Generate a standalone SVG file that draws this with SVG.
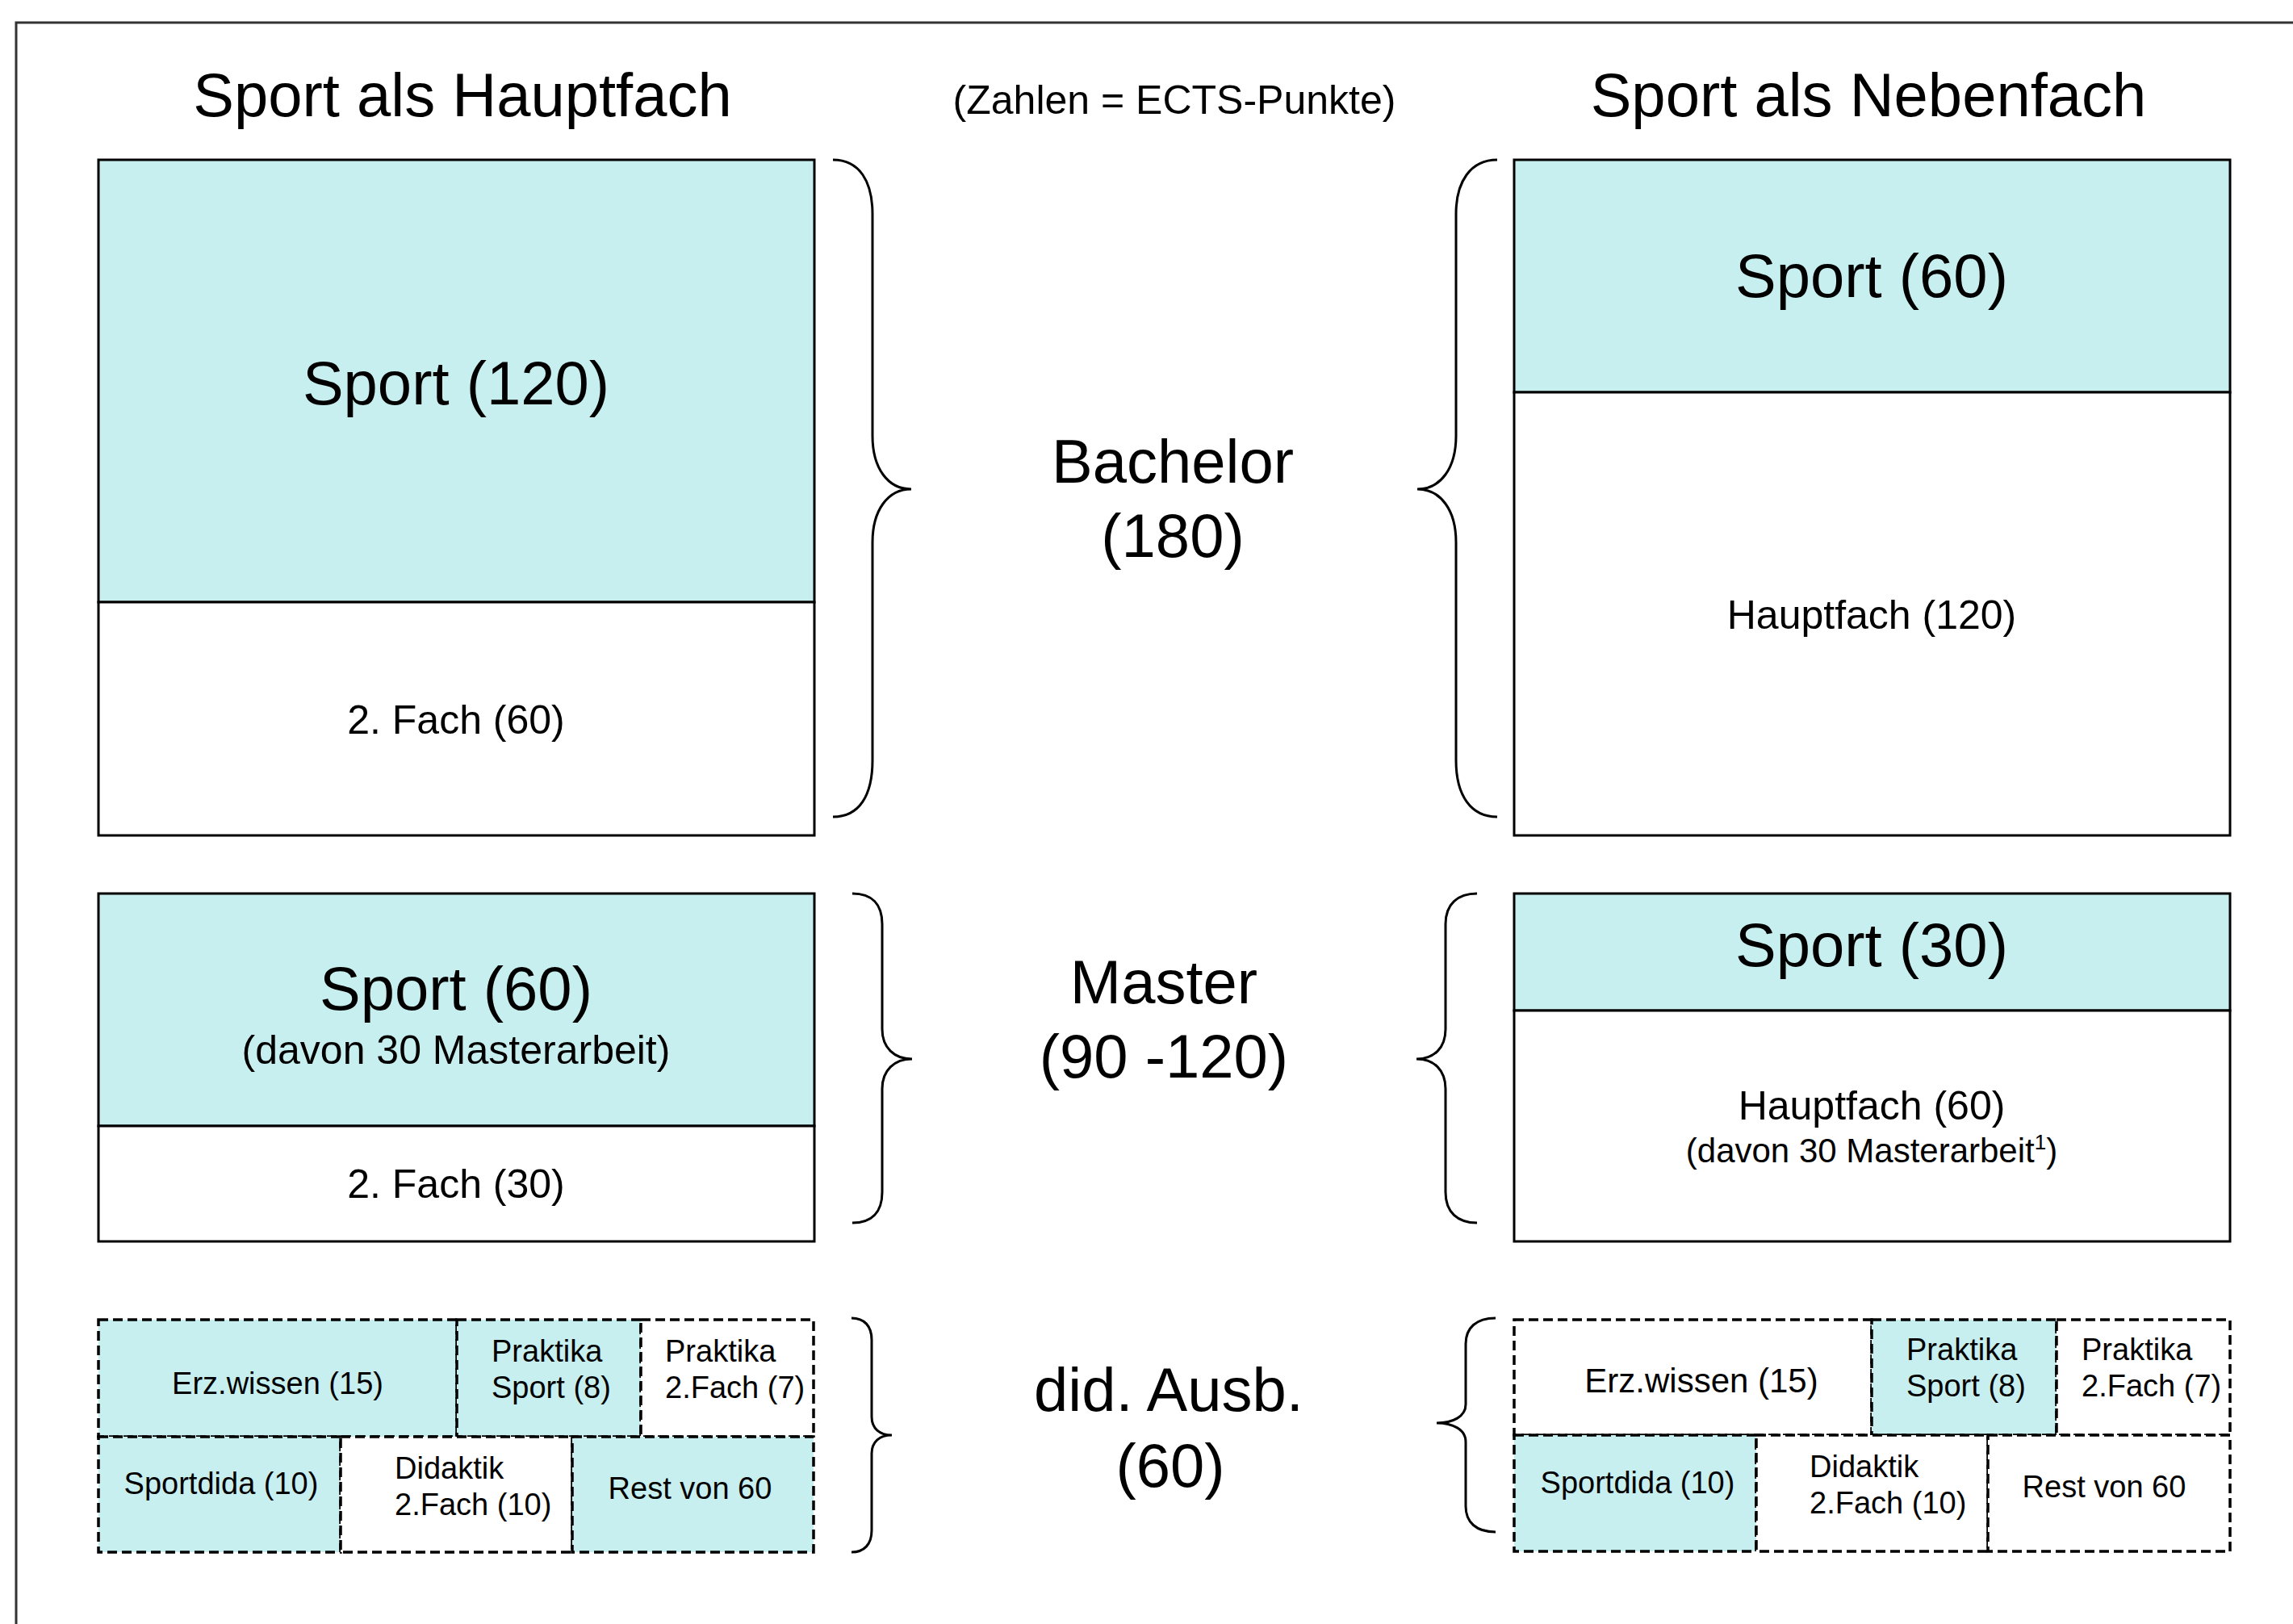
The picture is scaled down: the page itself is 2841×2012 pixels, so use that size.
<svg xmlns="http://www.w3.org/2000/svg" width="2841" height="2012" viewBox="0 0 2841 2012">
<style>
text{font-family:"Liberation Sans",Arial,sans-serif;fill:#000;}
.big{font-size:76px;}
.mid{font-size:50px;}
.sm{font-size:38px;}
.box{stroke:#000;stroke-width:3;}
.cy{fill:#C8EFEF;}
.wh{fill:#fff;}
.dash{stroke:#000;stroke-width:3.5;stroke-dasharray:12 6;}
.brace{fill:none;stroke:#000;stroke-width:3;}
.c{text-anchor:middle;}
</style>
<rect width="2841" height="2012" fill="#fff"/>
<path d="M20,2012 L20,28 L2841,28" fill="none" stroke="#333" stroke-width="3"/>
<g id="titles">
<text class="big c" x="573" y="144">Sport als Hauptfach</text>
<text class="c" x="1455" y="141" font-size="50">(Zahlen = ECTS-Punkte)</text>
<text class="big c" x="2315" y="144">Sport als Nebenfach</text>
</g>
<g id="labels">
<text class="big c" x="1453" y="598">Bachelor</text>
<text class="big c" x="1453" y="690">(180)</text>
<text class="big c" x="1442" y="1243">Master</text>
<text class="big c" x="1442" y="1335">(90 -120)</text>
<text class="big c" x="1448" y="1748">did. Ausb.</text>
<text class="big c" x="1450" y="1842">(60)</text>
</g>
<g id="bachelor-haupt">
<rect class="box cy" x="122" y="198" width="887" height="548"/>
<rect class="box wh" x="122" y="746" width="887" height="289"/>
<text class="big c" x="565" y="501">Sport (120)</text>
<text class="mid c" x="565" y="909">2. Fach (60)</text>
</g>
<g id="bachelor-neben">
<rect class="box cy" x="1876" y="198" width="887" height="288"/>
<rect class="box wh" x="1876" y="486" width="887" height="549"/>
<text class="big c" x="2319" y="368">Sport (60)</text>
<text class="mid c" x="2319" y="779">Hauptfach (120)</text>
</g>
<g id="master-haupt">
<rect class="box cy" x="122" y="1107" width="887" height="288"/>
<rect class="box wh" x="122" y="1395" width="887" height="143"/>
<text class="big c" x="565" y="1251">Sport (60)</text>
<text class="mid c" x="565" y="1318">(davon 30 Masterarbeit)</text>
<text class="mid c" x="565" y="1484">2. Fach (30)</text>
</g>
<g id="master-neben">
<rect class="box cy" x="1876" y="1107" width="887" height="145"/>
<rect class="box wh" x="1876" y="1252" width="887" height="286"/>
<text class="big c" x="2319" y="1197">Sport (30)</text>
<text class="mid c" x="2319" y="1387">Hauptfach (60)</text>
<text class="c" x="2319" y="1440" font-size="42">(davon 30 Masterarbeit<tspan font-size="26" dy="-16">1</tspan><tspan dy="16">)</tspan></text>
</g>
<g id="did-haupt">
<rect class="dash cy" x="122" y="1635" width="444" height="145"/>
<rect class="dash cy" x="566" y="1635" width="228" height="145"/>
<rect class="dash wh" x="794" y="1635" width="214" height="145"/>
<rect class="dash cy" x="122" y="1780" width="300" height="143"/>
<rect class="dash wh" x="422" y="1780" width="287" height="143"/>
<rect class="dash cy" x="709" y="1780" width="299" height="143"/>
<text class="sm c" x="344" y="1727">Erz.wissen (15)</text>
<text class="sm" x="609" y="1687">Praktika</text>
<text class="sm" x="609" y="1732">Sport (8)</text>
<text class="sm" x="824" y="1687">Praktika</text>
<text class="sm" x="824" y="1732">2.Fach (7)</text>
<text class="sm c" x="274" y="1851">Sportdida (10)</text>
<text class="sm" x="489" y="1832">Didaktik</text>
<text class="sm" x="489" y="1877">2.Fach (10)</text>
<text class="sm c" x="855" y="1857">Rest von 60</text>
</g>
<g id="did-neben">
<rect class="dash wh" x="1876" y="1635" width="443" height="143"/>
<rect class="dash cy" x="2319" y="1635" width="229" height="143"/>
<rect class="dash wh" x="2548" y="1635" width="215" height="143"/>
<rect class="dash cy" x="1876" y="1778" width="300" height="144"/>
<rect class="dash wh" x="2176" y="1778" width="287" height="144"/>
<rect class="dash wh" x="2463" y="1778" width="300" height="144"/>
<text class="c" x="2108" y="1725" font-size="42">Erz.wissen (15)</text>
<text class="sm" x="2362" y="1685">Praktika</text>
<text class="sm" x="2362" y="1730">Sport (8)</text>
<text class="sm" x="2579" y="1685">Praktika</text>
<text class="sm" x="2579" y="1730">2.Fach (7)</text>
<text class="sm c" x="2029" y="1850">Sportdida (10)</text>
<text class="sm" x="2242" y="1830">Didaktik</text>
<text class="sm" x="2242" y="1875">2.Fach (10)</text>
<text class="sm c" x="2607" y="1855">Rest von 60</text>
</g>
<g id="connectors">
<path class="brace" d="M1032,198 C1065,198 1081,225 1081,265 L1081,540 C1081,580 1100,606 1129,606 C1100,606 1081,632 1081,672 L1081,942 C1081,985 1065,1012 1032,1012"/>
<path class="brace" d="M1855,198 C1822,198 1804,225 1804,265 L1804,540 C1804,580 1785,606 1756,606 C1785,606 1804,632 1804,672 L1804,942 C1804,985 1822,1012 1855,1012"/>
<path class="brace" d="M1056,1107 C1080,1107 1093,1120 1093,1145 L1093,1275 C1093,1298 1108,1312 1130,1312 C1108,1312 1093,1326 1093,1349 L1093,1477 C1093,1502 1080,1515 1056,1515"/>
<path class="brace" d="M1830,1107 C1806,1107 1791,1120 1791,1145 L1791,1275 C1791,1298 1777,1312 1755,1312 C1777,1312 1791,1326 1791,1349 L1791,1477 C1791,1502 1806,1515 1830,1515"/>
<path class="brace" d="M1055,1633 C1071,1633 1080,1643 1080,1660 L1080,1755 C1080,1770 1090,1778 1105,1778 C1090,1778 1080,1786 1080,1801 L1080,1896 C1080,1913 1071,1923 1055,1923"/>
<path class="brace" d="M1853,1633 C1829,1633 1816,1645 1816,1665 L1816,1740 C1816,1755 1800,1763 1780,1763 C1800,1763 1816,1771 1816,1786 L1816,1866 C1816,1886 1829,1898 1853,1898"/>
</g>
</svg>
